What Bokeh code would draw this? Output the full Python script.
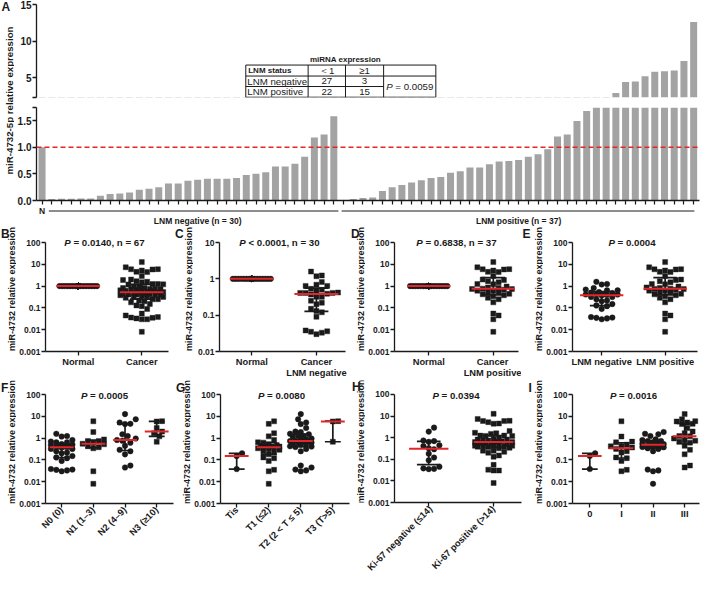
import math
import numpy as np
from bokeh.plotting import figure
from bokeh.models import (Range1d, FixedTicker, CustomJSTickFormatter, Label, Span,
                          ColumnDataSource)
from bokeh.layouts import row, column
from bokeh.embed import file_html
from bokeh.resources import INLINE

FONT = "Liberation Sans"
INK = "#1a1a1a"
RED = "#e3262a"
BAR = "#a3a3a3"

# ------------------------------------------------------------------ data
normal_value = 1.0
lnm_negative = [0.030, 0.033, 0.035, 0.036, 0.038, 0.09, 0.12, 0.13, 0.15, 0.20,
                0.22, 0.25, 0.32, 0.32, 0.37, 0.39, 0.41, 0.41, 0.41, 0.42,
                0.48, 0.50, 0.53, 0.64, 0.64, 0.69, 0.82, 1.18, 1.24, 1.58]
lnm_positive = [0.008, 0.03, 0.045, 0.055, 0.18, 0.25, 0.29, 0.34, 0.38, 0.42,
                0.44, 0.52, 0.55, 0.62, 0.62, 0.68, 0.73, 0.74, 0.76, 0.82,
                0.87, 0.96, 1.20, 1.24, 1.49, 1.68, 1.90, 2.00, 2.90, 4.40,
                4.50, 5.20, 5.80, 5.90, 6.00, 7.30, 12.60]
cancer_all = lnm_negative + lnm_positive
normal_67 = [1.0] * 67
normal_30 = [1.0] * 30
normal_37 = [1.0] * 37

table_cols = ["LNM status", "＜1", "≥1"]
table_rows = ["LNM negative", "LNM positive"]
table_below1 = [27, 22]
table_above1 = [3, 15]
table_p = "= 0.0059"

n1_values = [0.008, 0.03, 0.34, 0.38, 0.42, 0.52, 0.55, 0.62, 0.73, 0.74, 0.87, 1.90, 5.90]
n2_values = [0.045, 0.055, 0.18, 0.25, 0.29, 0.44, 0.62, 0.76, 0.82, 0.96, 1.24, 1.49,
             4.40, 4.50, 5.20, 7.30, 12.60]
n3_values = [0.68, 1.20, 1.68, 2.00, 2.90, 5.80, 6.00]

tis_values = [0.038, 0.15, 0.20]
t1_values = [0.008, 0.03, 0.035, 0.09, 0.12, 0.13, 0.18, 0.22, 0.25, 0.29, 0.32, 0.34,
             0.37, 0.38, 0.41, 0.41, 0.42, 0.44, 0.48, 0.52, 0.62, 0.64, 0.82, 1.20,
             1.68, 4.50, 5.90]
t2_values = [0.03, 0.033, 0.036, 0.045, 0.055, 0.25, 0.32, 0.39, 0.41, 0.42, 0.50, 0.53,
             0.55, 0.62, 0.64, 0.69, 0.73, 0.74, 0.76, 0.82, 0.87, 0.96, 1.18, 1.24,
             1.24, 1.49, 1.58, 1.90, 2.00, 2.90, 4.40, 5.20, 7.30, 12.60]
t3_values = [0.68, 5.80, 6.00]

ki67_negative = [0.035, 0.036, 0.038, 0.045, 0.09, 0.12, 0.18, 0.29, 0.32, 0.41, 0.44,
                 0.64, 0.69, 0.74, 1.90, 2.90]
ki67_positive = [0.008, 0.03, 0.03, 0.033, 0.055, 0.13, 0.15, 0.20, 0.22, 0.25, 0.25,
                 0.32, 0.34, 0.37, 0.38, 0.39, 0.41, 0.41, 0.42, 0.42, 0.48, 0.50,
                 0.52, 0.53, 0.55, 0.62, 0.62, 0.64, 0.68, 0.73, 0.76, 0.82, 0.82,
                 0.87, 0.96, 1.18, 1.20, 1.24, 1.24, 1.49, 1.58, 1.68, 2.00, 4.40,
                 4.50, 5.20, 5.80, 5.90, 6.00, 7.30, 12.60]

stage0_values = [0.038, 0.15, 0.20]
stage1_values = [0.03, 0.035, 0.09, 0.12, 0.13, 0.22, 0.25, 0.32, 0.37, 0.41, 0.42,
                 0.50, 0.64, 0.69, 1.18, 5.90]
stage2_values = [0.008, 0.03, 0.033, 0.036, 0.25, 0.32, 0.34, 0.38, 0.39, 0.41, 0.41,
                 0.42, 0.48, 0.52, 0.53, 0.55, 0.62, 0.64, 0.73, 0.74, 0.82, 0.87,
                 1.24, 1.49, 1.58, 1.90]
stage3_values = [0.045, 0.055, 0.18, 0.29, 0.44, 0.62, 0.68, 0.76, 0.82, 0.96, 1.20,
                 1.24, 1.68, 2.00, 2.90, 4.40, 4.50, 5.20, 5.80, 6.00, 7.30, 12.60]

YLABEL = "miR-4732 relative expression"

# ------------------------------------------------------------------ helpers
EM = {c: 0.556 for c in "0123456789"}
EM.update({" ": 0.278, ".": 0.278, ",": 0.278, "=": 0.584, "<": 0.584, "n": 0.611})
P_EM = 0.667 + 0.278   # italic "P" plus the following space


def em_width(s):
    return sum(EM.get(c, 0.6) for c in s)


def style_axes(p, tick_fs="8.5px"):
    for ax in p.axis:
        ax.axis_line_width = 1.3
        ax.axis_line_color = INK
        ax.major_tick_line_color = INK
        ax.major_tick_line_width = 1.3
        ax.major_tick_out = 4
        ax.major_tick_in = 0
        ax.minor_tick_line_color = None
        ax.major_label_text_font = FONT
        ax.major_label_text_font_style = "bold"
        ax.major_label_text_font_size = tick_fs
        ax.major_label_text_color = INK
        ax.major_label_standoff = 1


def new_fig(**kw):
    p = figure(output_backend="svg", toolbar_location=None, **kw)
    p.grid.visible = False
    p.outline_line_color = None
    return p


def strip_fig(w, h, bottom=0):
    return new_fig(width=w, height=h, x_range=Range1d(0, w), y_range=Range1d(0, h - bottom),
                   min_border_left=0, min_border_right=0, min_border_top=0,
                   min_border_bottom=bottom, x_axis_location=None, y_axis_location=None)


def swarm_offsets(vals, decade_px, d, half):
    ypx = np.log10(np.asarray(vals, float)) * decade_px
    step = d / 2.0
    cands = [0.0]
    k = 1
    while k * step <= half + 1e-9:
        cands += [k * step, -k * step]
        k += 1
    px, py = [], []
    offs = np.zeros(len(ypx))
    for i in np.argsort(ypx, kind="stable"):
        best, best_score = 0.0, -1.0
        for c in cands:
            if px:
                dist = float(np.min(np.hypot(np.array(px) - c, np.array(py) - ypx[i])))
            else:
                dist = np.inf
            if dist >= d * 0.999:
                best = c
                break
            if dist > best_score + 1e-9:
                best_score, best = dist, c
        px.append(best)
        py.append(ypx[i])
        offs[i] = best
    return offs


def text_label(p, x, y, text, size, style="bold", align="left", baseline="middle",
               xo=0, yo=0, angle=0.0):
    p.add_layout(Label(x=x, y=y, x_offset=xo, y_offset=yo, text=text, angle=angle,
                       text_font=FONT, text_font_style=style, text_font_size=size,
                       text_color=INK, text_align=align, text_baseline=baseline))


def scatter_panel(s):
    SW = s["strip"]
    L, FW, R = s["horiz"]
    T, B = s["vert"]
    W, H = L + FW + R, s["height"]
    fh_data = H - T - B
    x0, x1 = s["xr"]
    ylo, yhi = s["yr"]
    ppu = FW / (x1 - x0)
    dec = fh_data / (math.log10(yhi) - math.log10(ylo))
    ytop = yhi * 10 ** (T / dec)      # frame reaches the top edge; axis bounded at yhi
    p = new_fig(width=W, height=H, x_range=Range1d(x0, x1), y_range=Range1d(ylo, ytop),
                y_axis_type="log", min_border_left=L, min_border_right=R,
                min_border_top=0, min_border_bottom=B)
    p.yaxis.ticker = FixedTicker(ticks=s["yticks"], minor_ticks=[])
    p.yaxis.formatter = CustomJSTickFormatter(code="return String(tick);")
    p.yaxis.bounds = (ylo, yhi)
    names = s["names"]
    p.xaxis.ticker = FixedTicker(ticks=list(range(len(names))), minor_ticks=[])
    p.xaxis.major_label_overrides = {i: n for i, n in enumerate(names)}
    style_axes(p)
    p.xaxis.major_label_text_font_size = "9.3px"
    p.xaxis.major_label_text_line_height = 1.1
    p.xaxis.major_label_standoff = 1
    if s["rotate"]:
        p.xaxis.major_label_orientation = math.pi / 4

    bx0, by0, bx1, by1 = [], [], [], []
    rx0, rx1, ry = [], [], []
    for i, (vals, marker) in enumerate(zip(s["values"], s["markers"])):
        offs = swarm_offsets(vals, dec, 5.4, s["swarm"][i])
        xs = i + offs / ppu
        size = 5.6 if marker == "circle" else 5.0
        p.scatter(xs, vals, marker=marker, size=size, fill_color=INK, line_color=INK,
                  line_width=0.4)
        q1, med, q3 = np.percentile(np.asarray(vals, float), [25, 50, 75], method="weibull")
        c = s["cap"] / ppu
        r = s["red"] / ppu
        bx0 += [i, i - c, i - c]
        bx1 += [i, i + c, i + c]
        by0 += [q1, q1, q3]
        by1 += [q3, q1, q3]
        rx0.append(i - r)
        rx1.append(i + r)
        ry.append(med)
    p.segment(x0=bx0, y0=by0, x1=bx1, y1=by1, line_color=INK, line_width=1.7)
    p.segment(x0=rx0, y0=ry, x1=rx1, y1=ry, line_color=RED, line_width=2.0)

    # P text (italic P), inside the frame at the level of the top tick
    fs = 9.7
    rest = s["p_rest"]
    wtot = (P_EM + em_width(rest)) * fs
    left = s["p_center"] - wtot / 2
    text_label(p, x0, yhi, "P", "9.7px", style="bold italic", xo=left, yo=s["p_dy"])
    text_label(p, x0, yhi, rest, "9.7px", xo=left + P_EM * fs, yo=s["p_dy"])

    # left strip (same top/bottom borders as the plot): panel letter and y-axis title
    st = strip_fig(SW, H, bottom=B)
    fh = H - B
    text_label(st, s["letter_x"], fh - s["letter_y"], s["letter"], "12px")
    text_label(st, SW - 5.0, fh / 2, YLABEL, "9px", align="center", angle=math.pi / 2)
    return row(st, p)


# ------------------------------------------------------------------ panel A
bar_values = [normal_value] + lnm_negative + lnm_positive
bar_index = list(range(len(bar_values)))
src = ColumnDataSource(dict(x=bar_index, top=bar_values))

A_L, A_FW, A_R = 19, 666, 2
A_W = A_L + A_FW + A_R
AX = (-0.57, 67.6)
UP_Y = (2.3, 15.0)
LO_Y = (0.0, 1.745)

lab = strip_fig(14, 226)
text_label(lab, 1.0, 220.0, "A", "12px")
text_label(lab, 9.0, 126.0, "miR-4732-5p relative expression", "9.7px", align="center",
           angle=math.pi / 2)

up = new_fig(width=A_W, height=100, x_range=Range1d(*AX), y_range=Range1d(*UP_Y),
             min_border_left=A_L, min_border_right=A_R, min_border_top=4,
             min_border_bottom=3, x_axis_location=None)
up.vbar(x="x", top="top", bottom=0, width=0.72, source=src, fill_color=BAR, line_color=None)
up.yaxis.ticker = FixedTicker(ticks=[2.3, 5, 10, 15], minor_ticks=[])
up.yaxis.formatter = CustomJSTickFormatter(code="return tick < 3 ? '' : tick.toFixed(0);")
style_axes(up, "10px")

# contingency table (placed in the upper segment's data space)
cx = [20.95, 27.36, 31.2, 35.12, 40.49]
ry_ = [6.73, 5.23, 3.80, 2.34]
hx0 = [cx[0], cx[0], cx[0], cx[0]]
hx1 = [cx[4], cx[4], cx[3], cx[4]]
up.segment(x0=hx0, y0=ry_, x1=hx1, y1=ry_, line_color=INK, line_width=1)
up.segment(x0=cx, y0=[ry_[3]] * 5, x1=cx, y1=[ry_[0]] * 5, line_color=INK, line_width=1)
ymid = [(ry_[0] + ry_[1]) / 2, (ry_[1] + ry_[2]) / 2, (ry_[2] + ry_[3]) / 2]
c1 = (cx[1] + cx[2]) / 2
c2 = (cx[2] + cx[3]) / 2
text_label(up, cx[2], 7.55, "miRNA expression", "8px", align="center")
text_label(up, cx[0] + 0.25, ymid[0], table_cols[0], "8px")
text_label(up, c1, ymid[0], table_cols[1], "9.7px", style="normal", align="center")
text_label(up, c2, ymid[0], table_cols[2], "9.7px", style="normal", align="center")
for k in range(2):
    text_label(up, cx[0] + 0.15, ymid[k + 1], table_rows[k], "9.7px", style="normal")
    text_label(up, c1, ymid[k + 1], str(table_below1[k]), "9.7px", style="normal", align="center")
    text_label(up, c2, ymid[k + 1], str(table_above1[k]), "9.7px", style="normal", align="center")
ppu_a = A_FW / (AX[1] - AX[0])
pw = (P_EM + em_width(table_p)) * 9.7 / ppu_a
pl = (cx[3] + cx[4]) / 2 - pw / 2
pmid = (ry_[1] + ry_[3]) / 2
text_label(up, pl, pmid, "P", "9.7px", style="italic")
text_label(up, pl + P_EM * 9.7 / ppu_a, pmid, table_p, "9.7px", style="normal")

lo = new_fig(width=A_W, height=106, x_range=Range1d(*AX), y_range=Range1d(*LO_Y),
             min_border_left=A_L, min_border_right=A_R, min_border_top=7,
             min_border_bottom=6)
lo.vbar(x="x", top="top", bottom=0, width=0.72, source=src, fill_color=BAR, line_color=None)
lo.add_layout(Span(location=normal_value, dimension="width", line_color=RED,
                   line_dash="5 3", line_width=1.6))
lo.yaxis.ticker = FixedTicker(ticks=[0, 0.5, 1.0, 1.5, 1.745], minor_ticks=[])
lo.yaxis.formatter = CustomJSTickFormatter(code="return tick > 1.7 ? '' : tick.toFixed(1);")
lo.xaxis.ticker = FixedTicker(ticks=bar_index, minor_ticks=[])
lo.xaxis.formatter = CustomJSTickFormatter(code="return '';")
style_axes(lo, "10px")
lo.xaxis.major_label_text_font_size = "1px"
lo.xaxis.major_label_standoff = 0
lo.xaxis.major_tick_out = 4
lo.xaxis.major_tick_line_width = 1.2

# group brackets under the bars
n_neg, n_pos = len(lnm_negative), len(lnm_positive)
br = new_fig(width=A_W, height=20, x_range=Range1d(*AX), y_range=Range1d(0, 20),
             min_border_left=A_L, min_border_right=A_R, min_border_top=0,
             min_border_bottom=0, x_axis_location=None, y_axis_location=None)
br.segment(x0=[1 - 0.3, n_neg + 1 - 0.2], y0=[15.5, 15.5],
           x1=[n_neg + 0.47, n_neg + n_pos + 0.07], y1=[15.5, 15.5],
           line_color=INK, line_width=1)
text_label(br, 0, 15.5, "N", "8.5px", align="center")
text_label(br, (1 + n_neg) / 2 + 0.5, 5.5, f"LNM negative (n = {n_neg})", "8.5px",
           align="center")
text_label(br, (n_neg + 1 + n_neg + n_pos) / 2, 5.5, f"LNM positive (n = {n_pos})", "8.5px",
           align="center")

# ------------------------------------------------------------------ panels B-I
LOG5 = [0.001, 0.01, 0.1, 1, 10, 100]
R2 = dict(height=154, vert=(16, 29), yr=(0.001, 100), yticks=LOG5, rotate=False,
          red=22, cap=12, p_dy=0, letter_y=7, letter_x=0.5)
R3 = dict(height=199, vert=(14, 76), yr=(0.001, 100), yticks=LOG5, rotate=True,
          red=12, cap=8, p_dy=-1, letter_y=7, letter_x=0.5)

specs2 = [
    dict(R2, strip=16, horiz=(28, 124, 6), xr=(-0.515, 1.42), letter="B",
         names=["Normal", "Cancer"], values=[normal_67, cancer_all],
         markers=["circle", "square"], swarm=[20, 22],
         p_rest="= 0.0140, n = 67", p_center=59),
    dict(R2, strip=19, horiz=(26, 126, 5), xr=(-0.5, 1.45), letter="C", yr=(0.01, 10),
         yticks=[0.01, 0.1, 1, 10], names=["Normal", "Cancer\nLNM negative"],
         values=[normal_30, lnm_negative], markers=["circle", "square"], swarm=[20, 22],
         p_rest="< 0.0001, n = 30", p_center=60),
    dict(R2, strip=15, horiz=(27, 126, 3), xr=(-0.53, 1.39), letter="D",
         names=["Normal", "Cancer\nLNM positive"], values=[normal_37, lnm_positive],
         markers=["circle", "square"], swarm=[20, 22], p_rest="= 0.6838, n = 37",
         p_center=62),
    dict(R2, strip=22, horiz=(27, 127, 4), xr=(-0.46, 1.51), letter="E", letter_x=1,
         names=["LNM negative", "LNM positive"], values=[lnm_negative, lnm_positive],
         markers=["circle", "square"], swarm=[18, 20], p_rest="= 0.0004", p_center=59.5),
]
specs3 = [
    dict(R3, strip=16, horiz=(28, 129, 2), xr=(-0.51, 3.53), letter="F",
         names=["N0 (0)", "N1 (1–3)", "N2 (4–9)", "N3 (≥10)"],
         values=[lnm_negative, n1_values, n2_values, n3_values],
         markers=["circle", "square", "circle", "square"], swarm=[12, 12, 12, 12],
         p_rest="= 0.0005", p_center=59),
    dict(R3, strip=16, horiz=(28, 130, 2), xr=(-0.505, 3.52), letter="G",
         names=["Tis", "T1 (≤2)", "T2 (2 < T ≤ 5)", "T3 (T>5)"],
         values=[tis_values, t1_values, t2_values, t3_values],
         markers=["circle", "square", "circle", "square"], swarm=[12, 13, 13, 12],
         p_rest="= 0.0080", p_center=61),
    dict(R3, strip=14, horiz=(27, 129, 4), xr=(-0.528, 1.43), letter="H",
         names=["Ki-67 negative (≤14)", "Ki-67 positive (>14)"],
         values=[ki67_negative, ki67_positive], markers=["circle", "square"],
         swarm=[17, 19], red=20, cap=12, p_rest="= 0.0394", p_center=61.5),
    dict(R3, strip=18, horiz=(27, 129, 2), xr=(-0.548, 3.47), letter="I", letter_x=3,
         names=["0", "I", "II", "III"],
         values=[stage0_values, stage1_values, stage2_values, stage3_values],
         markers=["circle", "square", "circle", "square"], swarm=[12, 13, 13, 13],
         p_rest="= 0.0016", rotate=False, p_center=61),
]

row2 = row(*[scatter_panel(s) for s in specs2])
row3 = row(*[scatter_panel(s) for s in specs3])
panelA = row(lab, column(up, lo, br))
layout = column(panelA, row2, row3)

open("out.html", "w").write(file_html(layout, INLINE))
